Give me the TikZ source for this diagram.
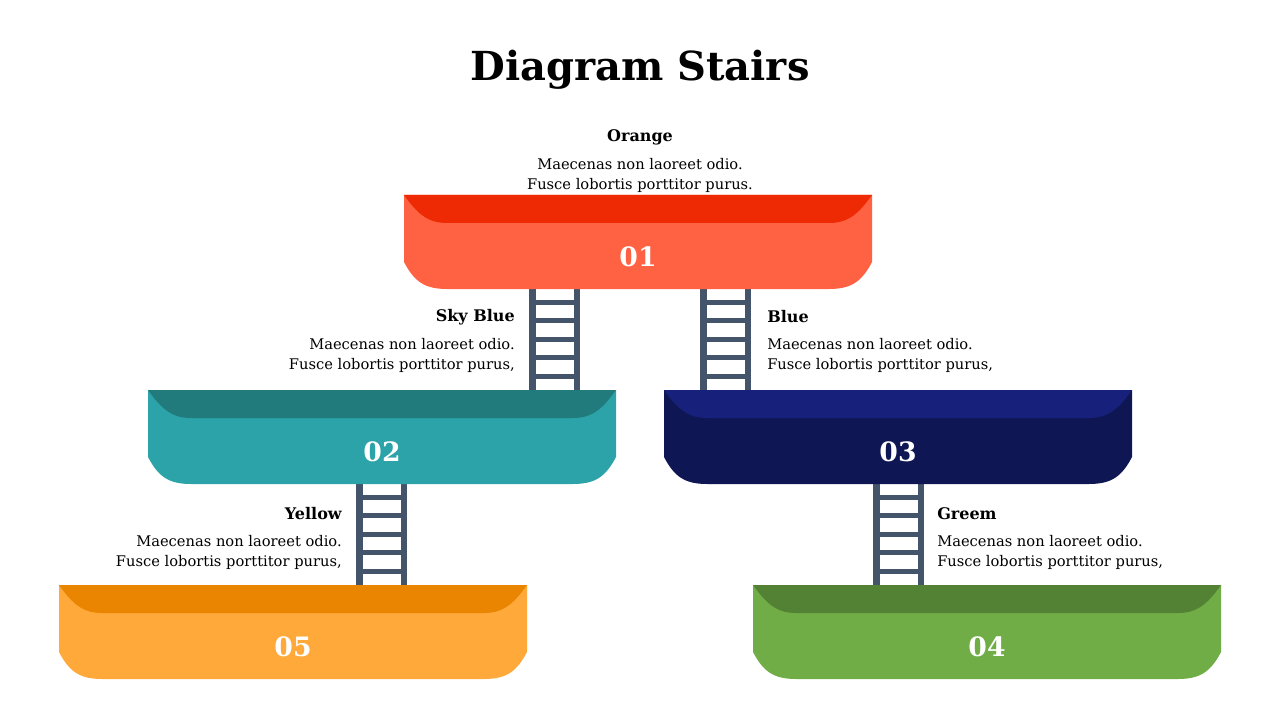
\documentclass[tikz,border=0pt]{standalone}
\usepackage{fontspec}
\setmainfont{DejaVu Serif}
\usetikzlibrary{positioning,calc}
\definecolor{ladder}{HTML}{44546A}
\definecolor{orangetop}{HTML}{EE2A04}
\definecolor{orangemain}{HTML}{FF6242}
\definecolor{skytop}{HTML}{217A7C}
\definecolor{skymain}{HTML}{2CA3A8}
\definecolor{bluetop}{HTML}{17207A}
\definecolor{bluemain}{HTML}{0E1754}
\definecolor{yellowtop}{HTML}{E98500}
\definecolor{yellowmain}{HTML}{FFA93B}
\definecolor{greentop}{HTML}{548235}
\definecolor{greenmain}{HTML}{70AD47}
% platform: #1 left, #2 top, #3 band colour, #4 body colour, #5 name, #6 number
\newcommand{\stairplatform}[6]{%
  \begin{scope}[shift={(#1,#2)}]
    \fill[#4] (0,0) -- (468,0) -- (468,67)
      .. controls (458,86) and (448,94) .. (425,94) -- (43,94)
      .. controls (20,94) and (10,86) .. (0,67) -- cycle;
    \fill[#3] (0,0) -- (468,0)
      .. controls (455,18) and (445,28) .. (425,28) -- (43,28)
      .. controls (23,28) and (13,18) .. (0,0) -- cycle;
    \node[numlabel] (#5) at (234,62) {#6};
  \end{scope}%
}
% ladder: #1 left, #2 top
\newcommand{\stairladder}[2]{%
  \begin{scope}[shift={(#1,#2)}]
    \fill[ladder] (0,0) rectangle (6.5,101);
    \fill[ladder] (44.5,0) rectangle (51,101);
    \foreach \k in {0,...,4}
      \fill[ladder] (0,{11+18.4*\k}) rectangle (51,{16+18.4*\k});
  \end{scope}%
}
\tikzset{
  numlabel/.style={text=white, font=\fontsize{20}{24}\selectfont\bfseries, inner sep=0pt},
  headtext/.style={font=\fontsize{12}{14}\selectfont\bfseries, inner sep=0pt},
  bodytext/.style={font=\fontsize{11}{15}\selectfont, inner sep=0pt},
}
\begin{document}
\begin{tikzpicture}[x=0.75pt, y=-0.75pt]
  \useasboundingbox (0,0) rectangle (1280,720);
  \node[font=\fontsize{30}{36}\selectfont\bfseries, inner sep=0pt] (title) at (640,70) {Diagram Stairs};

  % ladders behind the platforms
  \stairladder{529}{289}
  \stairladder{700}{289}
  \stairladder{356}{484}
  \stairladder{873}{484}

  % platforms
  \stairplatform{404}{195}{orangetop}{orangemain}{p01}{01}
  \stairplatform{148}{390}{skytop}{skymain}{p02}{02}
  \stairplatform{664}{390}{bluetop}{bluemain}{p03}{03}
  \stairplatform{59}{585}{yellowtop}{yellowmain}{p05}{05}
  \stairplatform{753}{585}{greentop}{greenmain}{p04}{04}

  % texts
  \node[headtext] (h-orange) at (640,137) {Orange};
  \node[bodytext, align=center] (b-orange) at (640,175) {Maecenas non laoreet odio.\\Fusce lobortis porttitor purus.};
  \node[headtext, anchor=east] (h-sky) at (515,317) {Sky Blue};
  \node[bodytext, align=right, anchor=east] (b-sky) at (515,355) {Maecenas non laoreet odio.\\Fusce lobortis porttitor purus,};
  \node[headtext, anchor=west] (h-blue) at (767,317) {Blue};
  \node[bodytext, align=left, anchor=west] (b-blue) at (767,355) {Maecenas non laoreet odio.\\Fusce lobortis porttitor purus,};
  \node[headtext, anchor=east] (h-yellow) at (342,514) {Yellow};
  \node[bodytext, align=right, anchor=east] (b-yellow) at (342,552) {Maecenas non laoreet odio.\\Fusce lobortis porttitor purus,};
  \node[headtext, anchor=west] (h-green) at (937,514) {Greem};
  \node[bodytext, align=left, anchor=west] (b-green) at (937,552) {Maecenas non laoreet odio.\\Fusce lobortis porttitor purus,};
\end{tikzpicture}
\end{document}
